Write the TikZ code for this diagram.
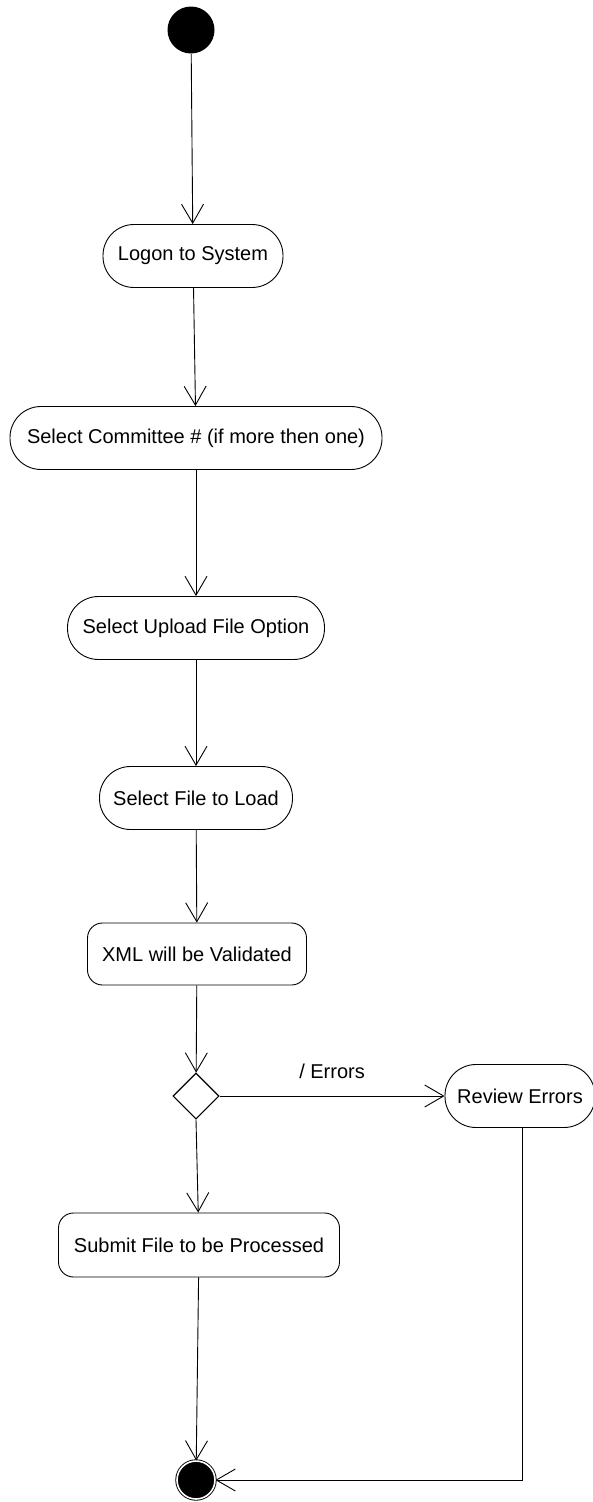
\documentclass[tikz,border=0pt]{standalone}
\usepackage{fontspec}
\setmainfont{Liberation Sans}
\usetikzlibrary{arrows.meta,shapes.geometric}
\begin{document}
\begin{tikzpicture}[x=1pt,y=-1pt,
  font=\fontsize{20}{24}\selectfont,
  line width=0.9pt,
  action/.style={draw, rounded corners=31pt, inner sep=0pt, minimum height=63pt},
  squarish/.style={draw, rounded corners=15pt, inner sep=0pt, minimum height=63pt},
  flow/.style={draw, -{Straight Barb[length=19pt,width=22pt,line width=0.9pt]}},
  decision/.style={draw, diamond, inner sep=0pt, minimum width=46pt, minimum height=46pt, line width=1.1pt},
  startnode/.style={circle, fill=black, inner sep=0pt, minimum size=47pt},
  endnode/.style={circle, draw, line width=0.9pt, fill=black, inner sep=0pt, minimum size=38pt, double, double distance=1.6pt}
]
\useasboundingbox (0,0) rectangle (592,1502);

\node[startnode] (start) at (191,30) {};
\node[action, minimum width=180pt] (logon) at (193,256) {Logon to System};
\node[action, minimum width=372pt] (committee) at (196,438) {Select Committee \# (if more then one)};
\node[action, minimum width=257pt] (upload) at (196,628) {Select Upload File Option};
\node[action, minimum width=193pt] (file) at (196,798) {Select File to Load};
\node[squarish, minimum width=219pt, minimum height=62pt] (xml) at (197,954) {XML will be Validated};
\node[decision] (dec) at (196,1096) {};
\node[action, minimum width=150pt] (review) at (520,1096) {Review Errors};
\node[squarish, minimum width=281pt, minimum height=64pt] (submit) at (199,1245) {Submit File to be Processed};
\node[endnode] (final) at (196,1480) {};

\draw[flow] (start) -- (logon);
\draw[flow] (logon) -- (committee);
\draw[flow] (committee) -- (upload);
\draw[flow] (upload) -- (file);
\draw[flow] (file) -- (xml);
\draw[flow] (xml) -- (dec);
\draw[flow] (dec) -- node[above=14pt] (errlabel) {/ Errors} (review);
\draw[flow] (dec.south) -- (submit);
\draw[flow] (submit) -- (final);
\draw[flow] ([xshift=2pt]review.south) |- (final.east);
\end{tikzpicture}
\end{document}
